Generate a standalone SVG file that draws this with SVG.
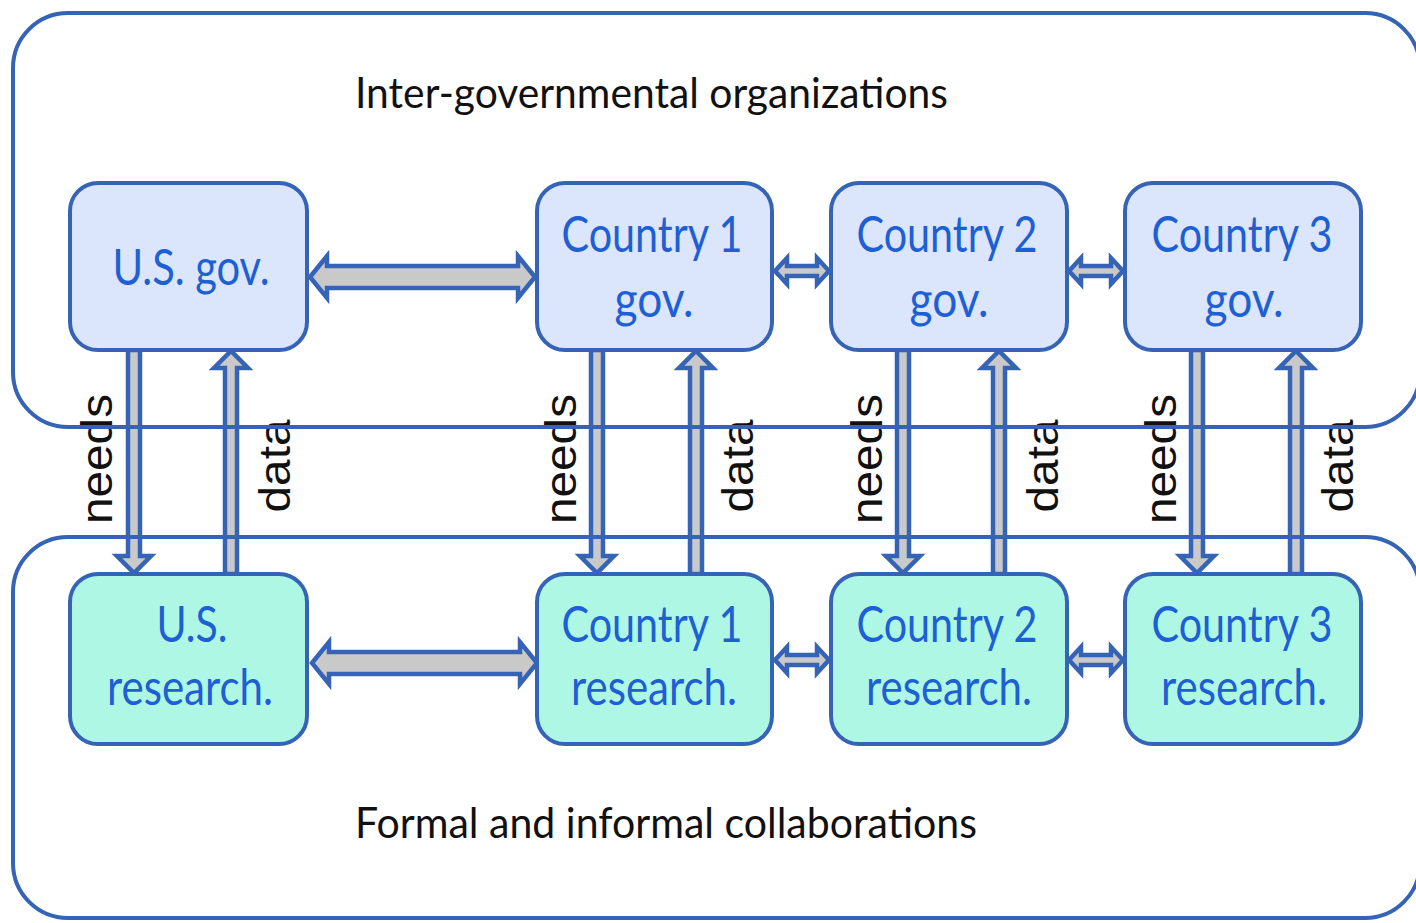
<svg xmlns="http://www.w3.org/2000/svg" width="1416" height="923" viewBox="0 0 1416 923">
<style>
.container{fill:none;stroke:#3563b6;stroke-width:4}
.gov{fill:#dbe5fb;stroke:#3563b6;stroke-width:4}
.res{fill:#aef7e5;stroke:#3563b6;stroke-width:4}
.arrow{fill:#c9c9c9;stroke:#3563b6;stroke-width:4.5;stroke-linejoin:miter}
.nt{font-family:Lato,"Open Sans",sans-serif;font-size:50px;fill:#1d5fd4;text-anchor:middle}
.title{font-family:Lato,"Open Sans",sans-serif;font-size:43px;fill:#111}
.lbl{font-family:"Liberation Sans",Arial,sans-serif;font-size:44px;fill:#111;text-anchor:middle}
</style>
<rect width="1416" height="923" fill="#fff"/>
<g id="connectors">
  <!-- horizontal gov -->
  <path class="arrow" d="M310,277 L327,256 L327,266 L518,266 L518,256 L535,277 L518,298 L518,288 L327,288 L327,298 Z"/>
  <path class="arrow" d="M775,271 L787,258 L787,266 L817,266 L817,258 L829,271 L817,284 L817,276 L787,276 L787,284 Z"/>
  <path class="arrow" d="M1069,271 L1081,258 L1081,266 L1111,266 L1111,258 L1123,271 L1111,284 L1111,276 L1081,276 L1081,284 Z"/>
  <!-- horizontal research -->
  <path class="arrow" d="M312,663 L329,642 L329,652 L520,652 L520,642 L537,663 L520,684 L520,674 L329,674 L329,684 Z"/>
  <path class="arrow" d="M775,660 L787,647 L787,655 L817,655 L817,647 L829,660 L817,673 L817,665 L787,665 L787,673 Z"/>
  <path class="arrow" d="M1069,660 L1081,647 L1081,655 L1111,655 L1111,647 L1123,660 L1111,673 L1111,665 L1081,665 L1081,673 Z"/>
  <!-- needs (down) -->
  <path class="arrow" d="M128,350 L140,350 L140,556 L151,556 L134,573 L117,556 L128,556 Z"/>
  <path class="arrow" d="M591,350 L603,350 L603,556 L614,556 L597,573 L580,556 L591,556 Z"/>
  <path class="arrow" d="M897,350 L909,350 L909,556 L920,556 L903,573 L886,556 L897,556 Z"/>
  <path class="arrow" d="M1191,350 L1203,350 L1203,556 L1214,556 L1197,573 L1180,556 L1191,556 Z"/>
  <!-- data (up) -->
  <path class="arrow" d="M225,574 L237,574 L237,368 L248,368 L231,351 L214,368 L225,368 Z"/>
  <path class="arrow" d="M690,574 L702,574 L702,368 L713,368 L696,351 L679,368 L690,368 Z"/>
  <path class="arrow" d="M993,574 L1005,574 L1005,368 L1016,368 L999,351 L982,368 L993,368 Z"/>
  <path class="arrow" d="M1290,574 L1302,574 L1302,368 L1313,368 L1296,351 L1279,368 L1290,368 Z"/>
  <!-- labels -->
  <text class="lbl" transform="translate(112,459) rotate(-90)" textLength="130" lengthAdjust="spacingAndGlyphs">needs</text>
  <text class="lbl" transform="translate(576,459) rotate(-90)" textLength="130" lengthAdjust="spacingAndGlyphs">needs</text>
  <text class="lbl" transform="translate(882,459) rotate(-90)" textLength="130" lengthAdjust="spacingAndGlyphs">needs</text>
  <text class="lbl" transform="translate(1176,459) rotate(-90)" textLength="130" lengthAdjust="spacingAndGlyphs">needs</text>
  <text class="lbl" transform="translate(290,466) rotate(-90)" textLength="93" lengthAdjust="spacingAndGlyphs">data</text>
  <text class="lbl" transform="translate(753,466) rotate(-90)" textLength="93" lengthAdjust="spacingAndGlyphs">data</text>
  <text class="lbl" transform="translate(1058,466) rotate(-90)" textLength="93" lengthAdjust="spacingAndGlyphs">data</text>
  <text class="lbl" transform="translate(1353,466) rotate(-90)" textLength="93" lengthAdjust="spacingAndGlyphs">data</text>
</g>
<g id="intergov">
  <rect class="container" x="13" y="13" width="1407" height="414" rx="55"/>
  <text class="title" x="355" y="108" textLength="593" lengthAdjust="spacingAndGlyphs">Inter-governmental organizations</text>
</g>
<g id="collab">
  <rect class="container" x="13" y="537" width="1407" height="381" rx="55"/>
  <text class="title" x="355" y="838" textLength="622" lengthAdjust="spacingAndGlyphs">Formal and informal collaborations</text>
</g>
<g id="us-gov">
  <rect class="gov" x="70" y="183" width="237" height="167" rx="28"/>
  <text class="nt" x="191" y="285" textLength="157" lengthAdjust="spacingAndGlyphs">U.S. gov.</text>
</g>
<g id="c1-gov">
  <rect class="gov" x="537" y="183" width="235" height="167" rx="28"/>
  <text class="nt" x="652" y="252" textLength="181" lengthAdjust="spacingAndGlyphs">Country 1</text>
  <text class="nt" x="654" y="317" textLength="79" lengthAdjust="spacingAndGlyphs">gov.</text>
</g>
<g id="c2-gov">
  <rect class="gov" x="831" y="183" width="236" height="167" rx="28"/>
  <text class="nt" x="947" y="252" textLength="181" lengthAdjust="spacingAndGlyphs">Country 2</text>
  <text class="nt" x="949" y="317" textLength="79" lengthAdjust="spacingAndGlyphs">gov.</text>
</g>
<g id="c3-gov">
  <rect class="gov" x="1125" y="183" width="236" height="167" rx="28"/>
  <text class="nt" x="1242" y="252" textLength="181" lengthAdjust="spacingAndGlyphs">Country 3</text>
  <text class="nt" x="1244" y="317" textLength="79" lengthAdjust="spacingAndGlyphs">gov.</text>
</g>
<g id="us-res">
  <rect class="res" x="70" y="574" width="237" height="170" rx="28"/>
  <text class="nt" x="192" y="642" textLength="71" lengthAdjust="spacingAndGlyphs">U.S.</text>
  <text class="nt" x="190" y="705" textLength="166" lengthAdjust="spacingAndGlyphs">research.</text>
</g>
<g id="c1-res">
  <rect class="res" x="537" y="574" width="235" height="170" rx="28"/>
  <text class="nt" x="652" y="642" textLength="181" lengthAdjust="spacingAndGlyphs">Country 1</text>
  <text class="nt" x="654" y="705" textLength="166" lengthAdjust="spacingAndGlyphs">research.</text>
</g>
<g id="c2-res">
  <rect class="res" x="831" y="574" width="236" height="170" rx="28"/>
  <text class="nt" x="947" y="642" textLength="181" lengthAdjust="spacingAndGlyphs">Country 2</text>
  <text class="nt" x="949" y="705" textLength="166" lengthAdjust="spacingAndGlyphs">research.</text>
</g>
<g id="c3-res">
  <rect class="res" x="1125" y="574" width="236" height="170" rx="28"/>
  <text class="nt" x="1242" y="642" textLength="181" lengthAdjust="spacingAndGlyphs">Country 3</text>
  <text class="nt" x="1244" y="705" textLength="166" lengthAdjust="spacingAndGlyphs">research.</text>
</g>
</svg>
